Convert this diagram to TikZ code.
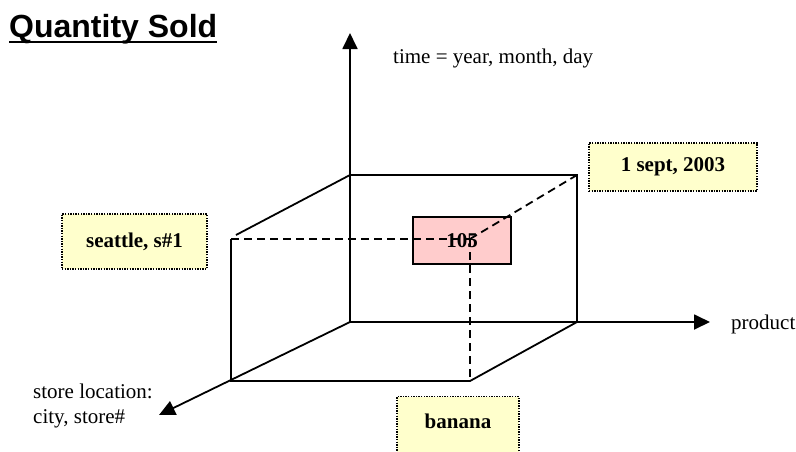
\documentclass[tikz,border=0pt]{standalone}
\usepackage{fontspec}
\setmainfont{Liberation Serif}
\newfontfamily\arialfont{Liberation Sans}
\usetikzlibrary{arrows.meta}
\definecolor{yellowbg}{HTML}{FFFFCC}
\definecolor{pinkbg}{HTML}{FFCCCC}
\begin{document}
\begin{tikzpicture}[x=1pt,y=-1pt,
  edge/.style={line width=1.8pt},
  hidden/.style={line width=1.8pt, dash pattern=on 8pt off 5pt},
  axis/.style={line width=1.8pt, -{Triangle[length=16pt,width=15pt]}},
  ybox/.style={draw, fill=yellowbg, line width=1.4pt, dash pattern=on 1.4pt off 1.2pt, inner sep=0pt, font=\fontsize{21}{25}\selectfont\bfseries},
  valbox/.style={draw, fill=pinkbg, line width=1.8pt, inner sep=0pt},
  txt/.style={inner sep=0pt, font=\fontsize{21}{25}\selectfont},
]
\useasboundingbox (0,0) rectangle (796,451);
\clip (0,0) rectangle (796,451);
% coordinates
\coordinate (O) at (350,322);
\coordinate (Ttip) at (350,33);
\coordinate (Ptip) at (710,322);
\coordinate (Stip) at (159,415);
\coordinate (B1) at (350,175);
\coordinate (B2) at (577,175);
\coordinate (B3) at (577,322);
\coordinate (D1) at (236,235);
\coordinate (F1) at (231,239);
\coordinate (F2) at (470,239);
\coordinate (F3) at (470,381);
\coordinate (F4) at (231,381);
% title
\node[anchor=base west, inner sep=0pt, font=\arialfont\bfseries\fontsize{32}{36}\selectfont] (title) at (9,37) {Quantity Sold};
\draw[line width=2.4pt] ([yshift=-5pt]title.base west) -- ([yshift=-5pt]title.base east);
% axes
\draw[axis] (O) -- (Ttip);
\draw[axis] (O) -- (Ptip);
\draw[axis] (O) -- (Stip);
% cube
\draw[edge] (B1) -- (B2) -- (B3);
\draw[edge] (B1) -- (D1);
\draw[edge] (F1) -- (F4) -- (F3) -- (B3);
% value box
\node[valbox, minimum width=98pt, minimum height=47pt] (val) at (462,240.5) {};
\draw[hidden] (F1) -- (F2);
\draw[hidden] (F2) -- (B2);
\draw[hidden] (F2) -- (F3);
\node[txt, font=\fontsize{21}{25}\selectfont\bfseries] (valtext) at (val.center) {105};
% labels
\node[txt, anchor=base west] (timelbl) at (393,63) {time = year, month, day};
\node[txt, anchor=base west] (prodlbl) at (731,329) {product};
\node[txt, anchor=north west, align=left] (storelbl) at (33,383.5) {store location:\\city, store\#};
% yellow boxes
\node[ybox, minimum width=145pt, minimum height=55pt] (seattle) at (134.5,241.5) {seattle, s\#1};
\node[ybox, minimum width=168pt, minimum height=48pt] (sept) at (673,167) {1 sept, 2003};
\node[ybox, minimum width=122pt, minimum height=70pt, anchor=north] (banana) at (458,396) {};
\node[txt, font=\fontsize{21}{25}\selectfont\bfseries] (bananatext) at (458,421) {banana};
\end{tikzpicture}
\end{document}
